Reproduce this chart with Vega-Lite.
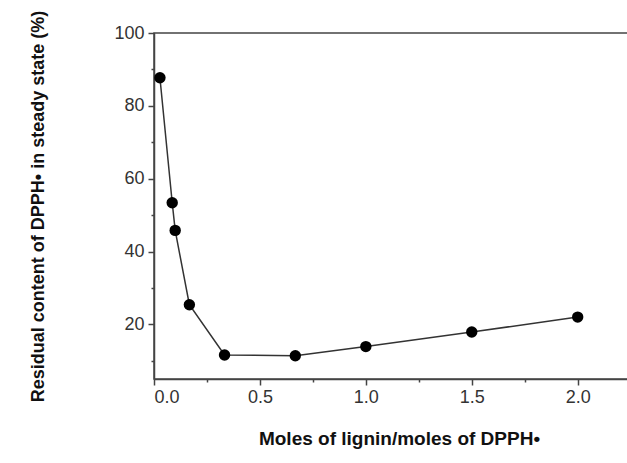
{
  "$schema": "https://vega.github.io/schema/vega-lite/v6.json",
  "autosize": "none",
  "width": 476,
  "height": 346,
  "padding": {"left": 154, "top": 33, "right": 0, "bottom": 84},
  "background": "white",
  "config": {
    "font": "Liberation Sans",
    "view": {"stroke": "#444", "strokeWidth": 1.5}
  },
  "data": {
    "values": [
      {"x": 0.028, "y": 87.7},
      {"x": 0.086, "y": 53.4},
      {"x": 0.1, "y": 45.8},
      {"x": 0.167, "y": 25.4},
      {"x": 0.333, "y": 11.6},
      {"x": 0.667, "y": 11.4},
      {"x": 1.0, "y": 13.9},
      {"x": 1.5, "y": 17.9},
      {"x": 2.0, "y": 22.0}
    ]
  },
  "encoding": {
    "x": {
      "field": "x",
      "type": "quantitative",
      "scale": {"domain": [0, 2.247], "nice": false, "zero": false},
      "axis": {
        "title": "Moles of lignin/moles of DPPH\u2022",
        "titleFont": "Liberation Sans",
        "titleFontSize": 19,
        "titleFontWeight": "bold",
        "titleColor": "#111",
        "titleX": 245,
        "titlePadding": 23,
        "values": [0, 0.25, 0.5, 0.75, 1.0, 1.25, 1.5, 1.75, 2.0],
        "labelExpr": "datum.value % 0.5 === 0 ? format(datum.value, '.1f') : ''",
        "labelFontSize": 18,
        "labelColor": "#333",
        "labelPadding": 3,
        "grid": false,
        "domainColor": "#444",
        "domainWidth": 1.5,
        "tickColor": "#444",
        "tickWidth": 1.5,
        "tickSize": {"condition": {"test": "datum.value % 0.5 === 0", "value": 6}, "value": 3}
      }
    },
    "y": {
      "field": "y",
      "type": "quantitative",
      "scale": {"domain": [5, 100], "nice": false, "zero": false},
      "axis": {
        "title": "Residual content of DPPH\u2022  in steady state (%)",
        "titleFont": "Liberation Sans",
        "titleFontSize": 18,
        "titleFontWeight": "bold",
        "titleColor": "#111",
        "titlePadding": 66,
        "values": [10, 20, 30, 40, 50, 60, 70, 80, 90, 100],
        "labelExpr": "datum.value % 20 === 0 ? datum.value : ''",
        "labelFontSize": 18,
        "labelColor": "#333",
        "labelPadding": 4,
        "grid": false,
        "domainColor": "#444",
        "domainWidth": 1.5,
        "tickColor": "#444",
        "tickWidth": 1.5,
        "tickSize": {"condition": {"test": "datum.value % 20 === 0", "value": 6}, "value": 3}
      }
    }
  },
  "layer": [
    {"mark": {"type": "line", "color": "#333", "strokeWidth": 1.5}},
    {"mark": {"type": "point", "filled": true, "color": "#000", "opacity": 1, "size": 130}}
  ]
}
